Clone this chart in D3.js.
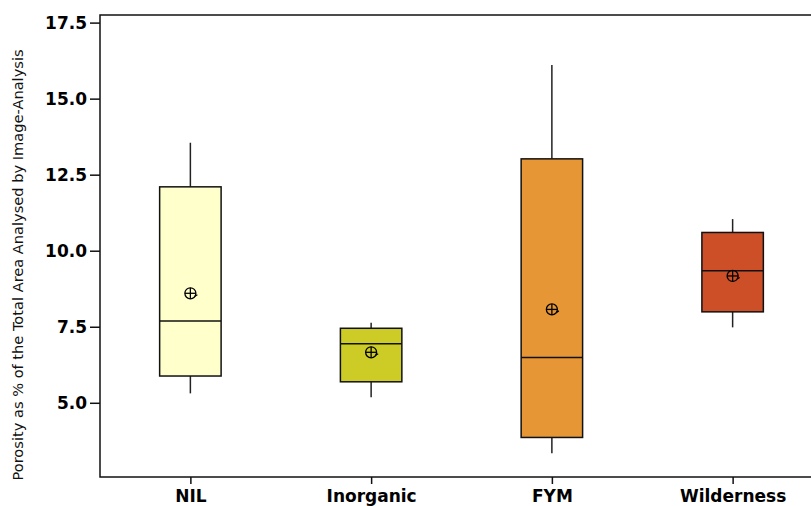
<!doctype html>
<html>
<head>
<meta charset="utf-8">
<title>Porosity boxplot</title>
<style>
  body { margin: 0; background: #fff; }
  svg { display: block; }
  .tick text { font-family: "DejaVu Sans", Verdana, sans-serif; font-weight: bold; }
</style>
</head>
<body>
<svg width="811" height="506"></svg>
<script src="https://cdn.jsdelivr.net/npm/d3@7/dist/d3.min.js"></script>
<script>
// box statistics
var categories = ["NIL", "Inorganic", "FYM", "Wilderness"];
var whiskerLow = [5.31, 5.18, 3.34, 7.48];
var q1 = [5.88, 5.69, 3.86, 7.99];
var median = [7.69, 6.94, 6.49, 9.34];
var q3 = [12.10, 7.45, 13.02, 10.60];
var whiskerHigh = [13.55, 7.63, 16.11, 11.04];
var means = [8.60, 6.66, 8.07, 9.17];
var colors = ["#ffffcc", "#cdcc26", "#e69634", "#cd4f28"];
var yTicks = [5.0, 7.5, 10.0, 12.5, 15.0, 17.5];

var svg = d3.select("svg"),
    plotLeft = 100, plotTop = 15, plotBottom = 477;

var y = d3.scaleLinear().domain([2.56, 17.75]).range([plotBottom, plotTop]);
var x = d3.scalePoint().domain(categories).range([plotLeft, 823]).padding(0.5);
var boxW = x.step() * 0.34;

var data = categories.map(function(c, i) {
    return { name: c, lo: whiskerLow[i], q1: q1[i], med: median[i], q3: q3[i], hi: whiskerHigh[i], mean: means[i], color: colors[i] };
});

// frame (right edge runs off the picture)
svg.append("rect")
    .attr("x", plotLeft).attr("y", plotTop)
    .attr("width", 820 - plotLeft).attr("height", plotBottom - plotTop)
    .attr("fill", "none").attr("stroke", "#111").attr("stroke-width", 1.5);

var yAxis = d3.axisLeft(y).tickValues(yTicks).tickFormat(d3.format(".1f")).tickSize(10).tickPadding(3);
var yg = svg.append("g").attr("transform", "translate(" + plotLeft + ",0)").call(yAxis);
yg.select(".domain").remove();
yg.selectAll(".tick line").attr("stroke", "#111").attr("stroke-width", 1.5);
yg.selectAll(".tick text").attr("font-size", 17).attr("fill", "#000");

var xAxis = d3.axisBottom(x).tickSize(7).tickPadding(6);
var xg = svg.append("g").attr("transform", "translate(0," + plotBottom + ")").call(xAxis);
xg.select(".domain").remove();
xg.selectAll(".tick line").attr("stroke", "#111").attr("stroke-width", 1.5);
xg.selectAll(".tick text").attr("font-size", 17).attr("fill", "#000");

var g = svg.selectAll(".box").data(data).enter().append("g").attr("class", "box");

g.append("line")
    .attr("x1", function(d) { return x(d.name); }).attr("x2", function(d) { return x(d.name); })
    .attr("y1", function(d) { return y(d.hi); }).attr("y2", function(d) { return y(d.q3); })
    .attr("stroke", "#222").attr("stroke-width", 1.5);
g.append("line")
    .attr("x1", function(d) { return x(d.name); }).attr("x2", function(d) { return x(d.name); })
    .attr("y1", function(d) { return y(d.q1); }).attr("y2", function(d) { return y(d.lo); })
    .attr("stroke", "#222").attr("stroke-width", 1.5);

g.append("rect")
    .attr("x", function(d) { return x(d.name) - boxW / 2; })
    .attr("y", function(d) { return y(d.q3); })
    .attr("width", boxW)
    .attr("height", function(d) { return y(d.q1) - y(d.q3); })
    .attr("fill", function(d) { return d.color; })
    .attr("stroke", "#111").attr("stroke-width", 1.5);

g.append("line")
    .attr("x1", function(d) { return x(d.name) - boxW / 2; })
    .attr("x2", function(d) { return x(d.name) + boxW / 2; })
    .attr("y1", function(d) { return y(d.med); }).attr("y2", function(d) { return y(d.med); })
    .attr("stroke", "#111").attr("stroke-width", 1.5);

// mean symbol: circle with cross
var m = g.append("g")
    .attr("transform", function(d) { return "translate(" + x(d.name) + "," + y(d.mean) + ")"; })
    .attr("stroke", "#000").attr("stroke-width", 1.3).attr("fill", "none");
m.append("circle").attr("r", 5.5);
m.append("line").attr("x1", -5.5).attr("x2", 5.5);
m.append("line").attr("y1", -5.5).attr("y2", 5.5);
m.append("line").attr("x1", 4.5).attr("y1", 3).attr("x2", 7).attr("y2", 1.5);

svg.append("text")
    .attr("transform", "translate(23,265) rotate(-90)")
    .attr("text-anchor", "middle")
    .attr("font-family", "'DejaVu Sans', Verdana, sans-serif")
    .attr("font-size", 14.6)
    .attr("fill", "#111")
    .text("Porosity as % of the Total Area Analysed by Image-Analysis");
</script>
</body>
</html>
